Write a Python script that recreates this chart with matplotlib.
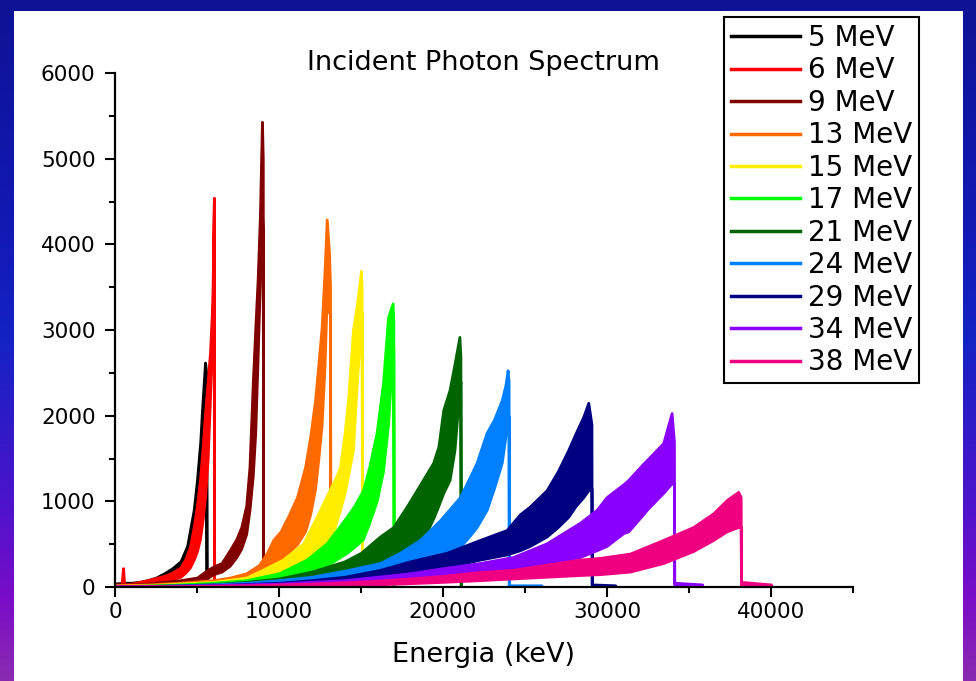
import numpy as np
import matplotlib
matplotlib.use("Agg")
import matplotlib.pyplot as plt
from matplotlib.lines import Line2D
from matplotlib.patches import Rectangle
from matplotlib.colors import LinearSegmentedColormap

plt.rcParams['font.family'] = ['DejaVu Sans']

# ---------------- data (keV, counts) ----------------
labels = ["5 MeV", "6 MeV", "9 MeV", "13 MeV", "15 MeV", "17 MeV",
          "21 MeV", "24 MeV", "29 MeV", "34 MeV", "38 MeV"]
colors = ["#000000", "#ff0000", "#800000", "#ff6a00", "#ffee00", "#00ff00",
          "#006400", "#0080ff", "#000080", "#8a00ff", "#f00080"]

e_5 = [0, 500, 1000, 1500, 2000, 2500, 3000, 3500, 4000, 4400, 4800, 5000, 5200, 5300, 5400, 5490, 5560, 5580, 6000]
hi_5 = [40, 50, 50, 60, 80, 110, 160, 220, 300, 480, 900, 1250, 1700, 2050, 2350, 2620, 2500, 0, 0]
lo_5 = [0, 10, 15, 20, 30, 50, 80, 120, 190, 290, 520, 650, 950, 1300, 1700, 2100, 2200, 0, 0]

e_6 = [0, 400, 490, 560, 1000, 2000, 3000, 3500, 4000, 4300, 4570, 4800, 5000, 5180, 5350, 5490, 5650, 5790, 5935, 6030, 6045, 6500]
hi_6 = [30, 30, 220, 30, 40, 80, 130, 170, 230, 330, 470, 700, 950, 1250, 1650, 2030, 2400, 2730, 3310, 4540, 0, 0]
lo_6 = [0, 0, 0, 0, 10, 30, 60, 90, 120, 170, 230, 320, 420, 560, 800, 1050, 1500, 2200, 2900, 4540, 0, 0]

e_9 = [0, 1000, 2000, 3000, 4000, 5000, 5500, 6000, 6500, 7000, 7400, 7700, 8000, 8200, 8400, 8550, 8700, 8840, 8960, 9010, 9030, 9500]
hi_9 = [30, 30, 40, 60, 80, 110, 180, 240, 280, 430, 560, 700, 950, 1400, 2380, 3000, 3600, 4360, 5430, 5000, 0, 0]
lo_9 = [0, 5, 10, 20, 30, 50, 90, 150, 180, 250, 350, 450, 620, 900, 1300, 1800, 2700, 3600, 4400, 4000, 0, 0]

e_13 = [0, 2000, 4000, 6000, 7000, 8000, 8800, 9270, 9650, 10100, 10550, 11100, 11590, 11900, 12200, 12400, 12600, 12780, 12910, 13050, 13110, 13130, 13500]
hi_13 = [20, 30, 50, 80, 110, 160, 260, 400, 550, 650, 820, 1050, 1400, 1750, 2180, 2600, 3030, 3700, 4290, 3900, 3500, 0, 0]
lo_13 = [0, 5, 15, 30, 50, 80, 130, 200, 260, 320, 400, 500, 650, 850, 1150, 1500, 1900, 2600, 3400, 3200, 3200, 0, 0]

e_15 = [0, 2000, 4000, 6000, 8000, 9000, 10240, 10900, 11480, 12300, 13000, 13400, 13720, 14000, 14210, 14510, 14750, 15000, 15040, 15060, 15500]
hi_15 = [15, 20, 40, 60, 110, 200, 320, 420, 510, 820, 1100, 1250, 1400, 1800, 2180, 3000, 3300, 3690, 3500, 0, 0]
lo_15 = [0, 5, 10, 25, 50, 90, 150, 200, 260, 400, 520, 700, 900, 1100, 1300, 1600, 2400, 3100, 3200, 0, 0]

e_17 = [0, 2000, 4000, 6000, 8000, 10000, 11690, 12910, 14130, 14600, 15120, 15500, 15950, 16340, 16650, 16930, 16970, 16990, 17500]
hi_17 = [10, 15, 30, 50, 80, 160, 320, 510, 820, 950, 1130, 1400, 1800, 2380, 3150, 3310, 3100, 0, 0]
lo_17 = [0, 5, 10, 20, 40, 80, 150, 250, 400, 470, 560, 750, 1000, 1350, 1900, 2800, 2800, 0, 0]

e_21 = [0, 2000, 4000, 6000, 8000, 10000, 12000, 14000, 15000, 16160, 16970, 17790, 18300, 18900, 19400, 19720, 20020, 20400, 20700, 21000, 21060, 21080, 21500]
hi_21 = [10, 15, 20, 35, 60, 100, 180, 300, 400, 590, 700, 940, 1100, 1290, 1450, 1640, 2070, 2300, 2600, 2920, 2700, 0, 0]
lo_21 = [0, 5, 10, 15, 25, 50, 90, 150, 200, 280, 340, 420, 470, 600, 800, 950, 1100, 1250, 1600, 2300, 2400, 0, 0]

e_24 = [0, 2000, 4000, 6000, 8000, 10000, 12000, 14000, 16160, 17380, 18600, 19820, 21040, 21550, 22050, 22660, 23100, 23580, 23800, 23940, 24000, 24010, 26000, 26010]
hi_24 = [10, 10, 20, 30, 50, 80, 120, 190, 280, 400, 550, 780, 1050, 1250, 1450, 1800, 1950, 2180, 2350, 2530, 2400, 20, 20, 0]
lo_24 = [0, 5, 5, 10, 20, 35, 60, 90, 140, 200, 280, 380, 470, 580, 700, 900, 1150, 1450, 1750, 2000, 2000, 0, 0, 0]

e_29 = [0, 2000, 4000, 6000, 8000, 10000, 12000, 14000, 16160, 18000, 20230, 22260, 23880, 24700, 25300, 26320, 27000, 27640, 28100, 28560, 28860, 29050, 29070, 30500, 30510]
hi_29 = [10, 10, 15, 20, 35, 50, 80, 120, 200, 300, 400, 550, 665, 850, 940, 1130, 1350, 1600, 1800, 1990, 2150, 1900, 30, 20, 0]
lo_29 = [0, 0, 5, 5, 10, 20, 35, 60, 100, 160, 230, 320, 380, 430, 480, 590, 700, 820, 950, 1050, 1130, 1150, 0, 0, 0]

e_34 = [0, 2000, 4000, 6000, 8000, 10000, 12000, 14000, 16000, 18000, 20000, 22260, 24270, 26320, 28350, 29370, 29980, 31000, 31300, 32210, 32420, 33430, 33940, 34080, 34100, 35800, 35810]
hi_34 = [10, 10, 15, 20, 30, 40, 60, 80, 120, 160, 220, 280, 350, 510, 750, 900, 1050, 1200, 1250, 1440, 1480, 1680, 2030, 1700, 50, 30, 0]
lo_34 = [0, 0, 0, 5, 10, 15, 25, 35, 55, 80, 110, 150, 200, 260, 350, 430, 480, 630, 650, 850, 900, 1100, 1210, 1200, 0, 0, 0]

e_38 = [0, 2000, 4000, 6000, 8000, 10000, 12000, 14000, 16000, 18000, 20000, 22260, 24270, 26300, 28350, 29570, 31400, 33430, 35260, 36480, 37300, 38000, 38150, 38170, 40000, 40010]
hi_38 = [10, 10, 10, 15, 20, 30, 40, 55, 75, 100, 130, 175, 200, 260, 320, 340, 390, 550, 700, 860, 1015, 1110, 1050, 60, 30, 0]
lo_38 = [0, 0, 0, 0, 5, 10, 15, 20, 30, 45, 60, 80, 100, 120, 140, 150, 180, 280, 420, 550, 650, 700, 700, 0, 0, 0]

energies = [e_5, e_6, e_9, e_13, e_15, e_17, e_21, e_24, e_29, e_34, e_38]
uppers = [hi_5, hi_6, hi_9, hi_13, hi_15, hi_17, hi_21, hi_24, hi_29, hi_34, hi_38]
lowers = [lo_5, lo_6, lo_9, lo_13, lo_15, lo_17, lo_21, lo_24, lo_29, lo_34, lo_38]

x_ticks = [0, 10000, 20000, 30000, 40000]
y_ticks = [0, 1000, 2000, 3000, 4000, 5000, 6000]

# ---------------- figure ----------------
W, H = 976, 681
fig = plt.figure(figsize=(W / 100, H / 100), dpi=100)

# gradient background frame
bg = fig.add_axes([0, 0, 1, 1], zorder=-10)
cmap = LinearSegmentedColormap.from_list(
    "frame", [(0.0, "#0e1294"), (0.34, "#1219b5"), (0.5, "#1422c4"),
              (0.73, "#4a14cc"), (0.88, "#7a0cc8"), (1.0, "#8a2cb0")])
grad = np.linspace(0, 1, 256).reshape(-1, 1)
bg.imshow(grad, aspect="auto", cmap=cmap, extent=[0, 1, 0, 1], origin="upper")
bg.add_patch(Rectangle((14 / W, 0), (963 - 14) / W, (H - 11) / H,
                       facecolor="white", edgecolor="none"))
bg.set_xlim(0, 1)
bg.set_ylim(0, 1)
bg.axis("off")

ax = fig.add_axes([115 / W, (H - 587) / H, (853 - 115) / W, (587 - 73) / H])
ax.set_facecolor("none")

for e, hi, lo, c in zip(energies, uppers, lowers, colors):
    ax.fill_between(e, lo, hi, color=c, edgecolor=c, linewidth=2.0)

ax.set_xlim(0, 45000)
ax.set_ylim(0, 6000)
ax.set_xticks(x_ticks)
ax.set_yticks(y_ticks)
ax.set_xticks(np.arange(5000, 45001, 10000), minor=True)
ax.set_yticks(np.arange(500, 6000, 1000), minor=True)
ax.set_xticklabels([str(v) for v in x_ticks])
ax.set_yticklabels([str(v) for v in y_ticks])
for s in ["top", "right"]:
    ax.spines[s].set_visible(False)
for s in ["left", "bottom"]:
    ax.spines[s].set_linewidth(1.6)
ax.tick_params(axis="both", which="major", length=7, width=1.5, labelsize=15.5,
               direction="out")
ax.tick_params(axis="both", which="minor", length=4.5, width=1.5, direction="out")
ax.tick_params(axis="y", which="major", pad=7)
ax.tick_params(axis="x", which="major", pad=4)

fig.text(483 / W, 1 - 63 / H, "Incident Photon Spectrum", ha="center",
         va="center", fontsize=19.5)
fig.text(483 / W, 1 - 655 / H, "Energia (keV)", ha="center", va="center",
         fontsize=19.5)

handles = [Line2D([], [], color=c, lw=2.5) for c in colors]
leg = fig.legend(handles, labels, loc="upper left",
                 bbox_to_anchor=(724 / W, 1 - 17 / H),
                 bbox_transform=fig.transFigure, fontsize=20,
                 frameon=True, fancybox=False, framealpha=1,
                 edgecolor="black", borderaxespad=0, borderpad=0.25,
                 labelspacing=0.16, handlelength=2.48, handletextpad=0.3)
leg.get_frame().set_linewidth(1.5)

fig.savefig("out.png", dpi=100)
